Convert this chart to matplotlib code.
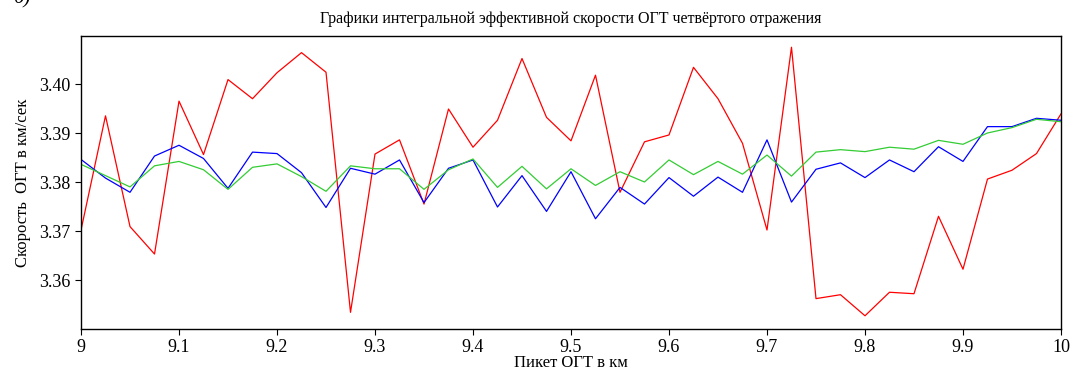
# Графики интегральной эффективной скорости ОГТ
import matplotlib
matplotlib.use('Agg')
import matplotlib.pyplot as plt

plt.rcParams['font.family'] = ['Liberation Serif', 'DejaVu Serif']

piket = [9 + 0.025 * i for i in range(41)]

v_red = [3.3703, 3.3936, 3.3710, 3.3654, 3.3966, 3.3857, 3.4010, 3.3971, 3.4024, 3.4065,
         3.4025, 3.3535, 3.3858, 3.3887, 3.3756, 3.3950, 3.3872, 3.3927, 3.4053, 3.3933,
         3.3885, 3.4019, 3.3780, 3.3883, 3.3897, 3.4035, 3.3971, 3.3880, 3.3703, 3.4076,
         3.3563, 3.3571, 3.3528, 3.3576, 3.3573, 3.3731, 3.3623, 3.3807, 3.3825, 3.3859,
         3.3940]
v_blue = [3.3847, 3.3809, 3.3780, 3.3854, 3.3876, 3.3849, 3.3788, 3.3862, 3.3859, 3.3820,
          3.3749, 3.3829, 3.3817, 3.3846, 3.3759, 3.3829, 3.3846, 3.3750, 3.3814, 3.3741,
          3.3822, 3.3726, 3.3790, 3.3756, 3.3810, 3.3772, 3.3811, 3.3780, 3.3887, 3.3760,
          3.3827, 3.3840, 3.3810, 3.3846, 3.3822, 3.3873, 3.3843, 3.3914, 3.3914, 3.3931,
          3.3927]
v_green = [3.3837, 3.3814, 3.3791, 3.3834, 3.3843, 3.3826, 3.3786, 3.3831, 3.3838, 3.3812,
           3.3782, 3.3834, 3.3828, 3.3828, 3.3786, 3.3826, 3.3848, 3.3790, 3.3833, 3.3787,
           3.3828, 3.3794, 3.3822, 3.3801, 3.3846, 3.3816, 3.3843, 3.3817, 3.3856, 3.3813,
           3.3862, 3.3867, 3.3863, 3.3872, 3.3868, 3.3886, 3.3878, 3.3901, 3.3912, 3.3929,
           3.3924]

x_ticks = [9, 9.1, 9.2, 9.3, 9.4, 9.5, 9.6, 9.7, 9.8, 9.9, 10]
x_labels = ['9', '9.1', '9.2', '9.3', '9.4', '9.5', '9.6', '9.7', '9.8', '9.9', '10']
y_ticks = [3.36, 3.37, 3.38, 3.39, 3.40]
y_labels = ['3.36', '3.37', '3.38', '3.39', '3.40']

fig = plt.figure(figsize=(10.73, 3.76), dpi=100)
ax = fig.add_axes([0.0755, 0.125, 0.9133, 0.7793])

ax.plot(piket, v_red, color='#ff0000', lw=0.9)
ax.plot(piket, v_blue, color='#0000ff', lw=0.9)
ax.plot(piket, v_green, color='#33cc33', lw=0.9)

ax.set_xlim(9, 10)
ax.set_ylim(3.3501, 3.4099)
ax.set_xticks(x_ticks)
ax.set_xticklabels(x_labels)
ax.set_yticks(y_ticks)
ax.set_yticklabels(y_labels)
ax.tick_params(labelsize=13, length=4, width=0.8, direction='out')
for s in ax.spines.values():
    s.set_linewidth(1.0)

ax.set_title('Графики интегральной эффективной скорости ОГТ четвёртого отражения',
             fontsize=11.5, pad=9)
ax.set_xlabel('Пикет ОГТ в км', fontsize=12, labelpad=-1)
ax.set_ylabel('Скорость  ОГТ в км/сек', fontsize=12, labelpad=6)

# край подписи панели, обрезанный сверху
fig.text(0.012, 1 - 3 / 376, 'б)', fontsize=15, style='italic', va='baseline')

fig.savefig('out.png', dpi=100)
